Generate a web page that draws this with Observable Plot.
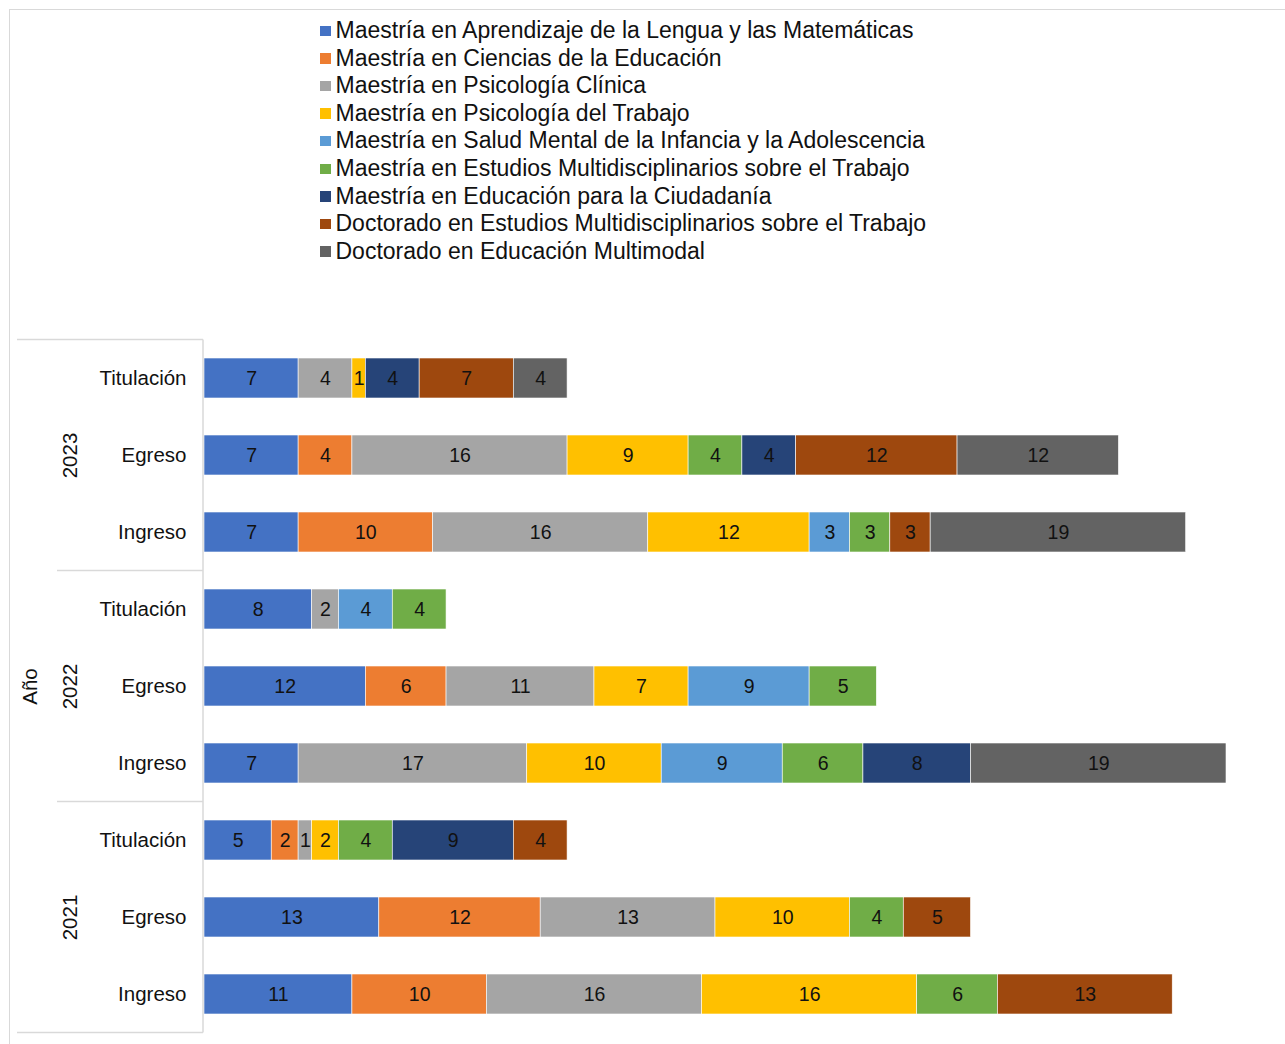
<!DOCTYPE html>
<html><head><meta charset="utf-8">
<script src="https://cdn.jsdelivr.net/npm/d3@7"></script>
<script src="https://cdn.jsdelivr.net/npm/@observablehq/plot@0.6"></script>
<style>
body{margin:0;background:#fff;font-family:"Liberation Sans",Arial,Helvetica,sans-serif;}
#wrap{position:relative;width:1285px;height:1044px;overflow:hidden;}
#frame{position:absolute;left:9px;top:9px;width:1300px;height:1100px;border-top:1.5px solid #d9d9d9;border-left:1.5px solid #d9d9d9;}
#legend{position:absolute;left:320px;top:17px;font-size:23px;color:#111;}
.item{height:27.6px;line-height:27.6px;display:flex;align-items:center;white-space:nowrap;}
.sw{width:10.5px;height:10.5px;margin-right:5px;flex:none;}
#chart{position:absolute;left:0;top:0;}
</style>
</head><body>
<div id="wrap"><div id="frame"></div><div id="chart"></div><div id="legend"></div></div>
<script>
const series = [
  "Maestría en Aprendizaje de la Lengua y las Matemáticas",
  "Maestría en Ciencias de la Educación",
  "Maestría en Psicología Clínica",
  "Maestría en Psicología del Trabajo",
  "Maestría en Salud Mental de la Infancia y la Adolescencia",
  "Maestría en Estudios Multidisciplinarios sobre el Trabajo",
  "Maestría en Educación para la Ciudadanía",
  "Doctorado en Estudios Multidisciplinarios sobre el Trabajo",
  "Doctorado en Educación Multimodal"
];
const colors = ["#4472C4","#ED7D31","#A5A5A5","#FFC000","#5B9BD5","#70AD47","#264478","#9E480E","#636363"];
const years = ["2023","2022","2021"];
const types = ["Titulación","Egreso","Ingreso"];

const v2023Titulacion = [7,0,4,1,0,0,4,7,4];
const v2023Egreso     = [7,4,16,9,0,4,4,12,12];
const v2023Ingreso    = [7,10,16,12,3,3,0,3,19];
const v2022Titulacion = [8,0,2,0,4,4,0,0,0];
const v2022Egreso     = [12,6,11,7,9,5,0,0,0];
const v2022Ingreso    = [7,0,17,10,9,6,8,0,19];
const v2021Titulacion = [5,2,1,2,0,4,9,4,0];
const v2021Egreso     = [13,12,13,10,0,4,0,5,0];
const v2021Ingreso    = [11,10,16,16,0,6,0,13,0];

const table = {
  "2023": [v2023Titulacion, v2023Egreso, v2023Ingreso],
  "2022": [v2022Titulacion, v2022Egreso, v2022Ingreso],
  "2021": [v2021Titulacion, v2021Egreso, v2021Ingreso]
};

const rows = years.flatMap(y => types.map(t => ({row: y + " " + t, year: y, type: t})));
const rowKeys = rows.map(r => r.row);
const data = rows.flatMap(r => {
  const vals = table[r.year][types.indexOf(r.type)];
  return series.map((s, j) => ({row: r.row, series: s, value: vals[j]})).filter(d => d.value > 0);
});
const yearMid = years.map(y => ({row: y + " Egreso", year: y}));

const font = '"Liberation Sans", Arial, Helvetica, sans-serif';
const plot = Plot.plot({
  width: 1285, height: 1044,
  marginLeft: 204, marginRight: 59, marginTop: 0, marginBottom: 0,
  x: {domain: [0, 76], axis: null},
  y: {domain: rowKeys, range: [338.3, 1034.7], paddingInner: 0.48, paddingOuter: 0.24, axis: null},
  color: {domain: series, range: colors},
  style: {fontFamily: font, background: "transparent", overflow: "visible"},
  marks: [
    Plot.barX(data, {x: "value", y: "row", fill: "series", z: "series", stroke: "#ffffff", strokeWidth: 0.6}),
    Plot.text(data, Plot.stackX({x: "value", y: "row", z: "series", text: "value", fill: "#111", fontSize: 19.5})),
    Plot.text(rows, {x: () => 0, y: "row", text: "type", textAnchor: "end", dx: -18, fontSize: 20.5, fill: "#111"}),
    Plot.text(yearMid, {x: () => 0, y: "row", text: "year", rotate: -90, dx: -134, fontSize: 20.5, fill: "#111"}),
    Plot.text([{row: "2022 Egreso", t: "Año"}], {x: () => 0, y: "row", text: "t", rotate: -90, dx: -174, fontSize: 20.5, fill: "#111"})
  ]
});
document.getElementById("chart").appendChild(plot);

// category axis separators drawn from the plot's own scales
const ys = plot.scale("y"), xs = plot.scale("x");
const gap = (ys.step - ys.bandwidth) / 2;
const xAxisLine = xs.apply(0) - 1;
const yTop = ys.apply(rowKeys[0]) - gap;
const yBottom = ys.apply(rowKeys[rowKeys.length - 1]) + ys.bandwidth + gap;
const g = d3.select(plot).append("g").attr("stroke", "#d9d9d9").attr("stroke-width", 1.5);
g.append("line").attr("x1", 17).attr("x2", xAxisLine).attr("y1", yTop).attr("y2", yTop);
g.append("line").attr("x1", 17).attr("x2", xAxisLine).attr("y1", yBottom).attr("y2", yBottom);
years.slice(1).forEach(y => {
  const yy = ys.apply(y + " Titulación") - gap;
  g.append("line").attr("x1", 57).attr("x2", xAxisLine).attr("y1", yy).attr("y2", yy);
});
g.append("line").attr("x1", xAxisLine).attr("x2", xAxisLine).attr("y1", yTop).attr("y2", yBottom);

// legend
const leg = d3.select("#legend");
series.forEach((s, i) => {
  const it = leg.append("div").attr("class", "item");
  it.append("div").attr("class", "sw").style("background", colors[i]);
  it.append("span").text(s);
});
</script>
</body></html>
